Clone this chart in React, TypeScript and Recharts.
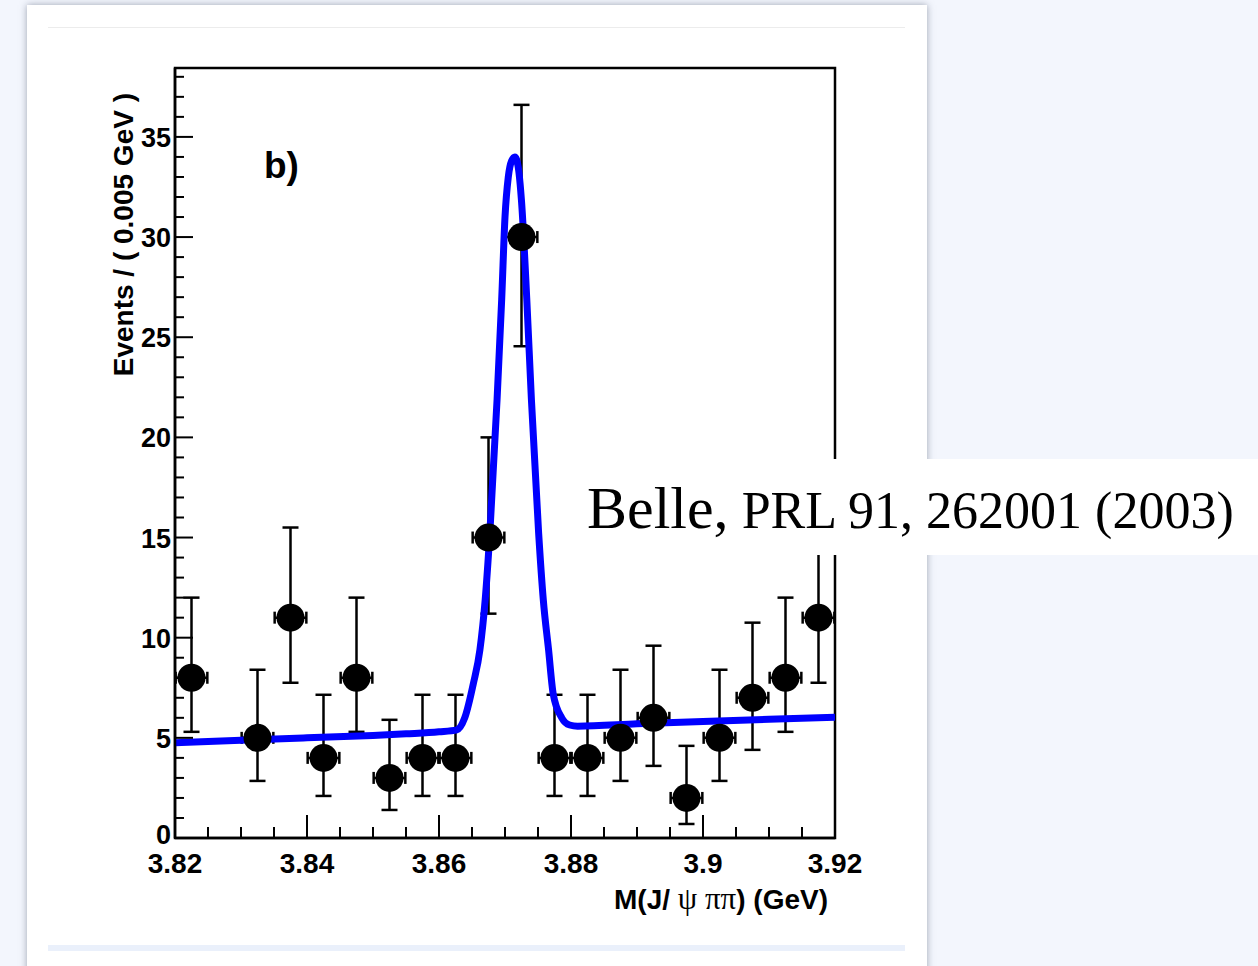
import React from 'react';
import { ComposedChart, XAxis, YAxis, Scatter, Line, ErrorBar, ReferenceArea } from 'recharts';

// ---- data ----
const massBins = [3.8225, 3.8325, 3.8375, 3.8425, 3.8475, 3.8525, 3.8575, 3.8625, 3.8675, 3.8725, 3.8775, 3.8825, 3.8875, 3.8925, 3.8975, 3.9025, 3.9075, 3.9125, 3.9175];
const eventCounts = [8, 5, 11, 4, 8, 3, 4, 4, 15, 30, 4, 4, 5, 6, 2, 5, 7, 8, 11];
const errLower = [2.7, 2.15, 3.25, 1.9, 2.7, 1.6, 1.9, 1.9, 3.8, 5.45, 1.9, 1.9, 2.15, 2.4, 1.3, 2.15, 2.6, 2.7, 3.25];
const errUpper = [4.0, 3.4, 4.5, 3.15, 4.0, 2.9, 3.15, 3.15, 5.0, 6.6, 3.15, 3.15, 3.4, 3.6, 2.6, 3.4, 3.75, 4.0, 4.5];
const binHalfWidth = 0.0024;

const fitMass = [3.82, 3.83, 3.84, 3.85, 3.855, 3.86, 3.8627, 3.8639, 3.8652, 3.8662, 3.867, 3.8677, 3.8688, 3.8695, 3.87, 3.8705, 3.871, 3.8715, 3.872, 3.8725, 3.8733, 3.874, 3.8751, 3.8758, 3.8766, 3.8773, 3.8786, 3.8798, 3.881, 3.89, 3.9, 3.91, 3.92];
const fitEvents = [4.76, 4.88, 5.0, 5.12, 5.2, 5.3, 5.4, 6.0, 7.7, 9.4, 11.9, 15.2, 21.9, 26.9, 31.0, 33.0, 33.8, 34.0, 33.5, 31.8, 26.9, 21.9, 15.2, 11.9, 9.4, 7.2, 6.0, 5.64, 5.58, 5.7, 5.82, 5.93, 6.03];

const xTicks = [3.82, 3.825, 3.83, 3.835, 3.84, 3.845, 3.85, 3.855, 3.86, 3.865, 3.87, 3.875, 3.88, 3.885, 3.89, 3.895, 3.9, 3.905, 3.91, 3.915, 3.92];
const xMajorTicks = [3.82, 3.84, 3.86, 3.88, 3.9, 3.92];
const xMajorLabels = ['3.82', '3.84', '3.86', '3.88', '3.9', '3.92'];
const yTicks = [0, 1, 2, 3, 4, 5, 6, 7, 8, 9, 10, 11, 12, 13, 14, 15, 16, 17, 18, 19, 20, 21, 22, 23, 24, 25, 26, 27, 28, 29, 30, 31, 32, 33, 34, 35, 36, 37, 38];
const yMajorTicks = [0, 5, 10, 15, 20, 25, 30, 35];
const yMax = 38.44;

const pointData = massBins.map((x, i) => ({ x, y: eventCounts[i], ey: [errLower[i], errUpper[i]], ex: binHalfWidth }));
const fitData = fitMass.map((x, i) => ({ x, fit: fitEvents[i] }));

const SANS = '"Liberation Sans", Arial, Helvetica, sans-serif';
const SERIF = '"Liberation Serif", "Times New Roman", serif';

const XTick = (props: any) => {
  const { x, y, payload } = props;
  const v = payload.value;
  const idx = xMajorTicks.findIndex((m) => Math.abs(m - v) < 1e-7);
  const major = idx >= 0;
  return (
    <g>
      <line x1={x} x2={x} y1={y} y2={y - (major ? 23 : 11)} stroke="#000" strokeWidth={2} />
      {major && (
        <text x={x} y={y + 35} textAnchor="middle" fontFamily={SANS} fontWeight="bold" fontSize={28} fill="#000">
          {xMajorLabels[idx]}
        </text>
      )}
    </g>
  );
};

const YTick = (props: any) => {
  const { x, y, payload } = props;
  const v = payload.value;
  const major = yMajorTicks.includes(v);
  const lift = v === 0 ? 4 : 0;
  return (
    <g>
      <line x1={x} x2={x + (major ? 18 : 9)} y1={y} y2={y} stroke="#000" strokeWidth={2} />
      {major && (
        <text x={x - 4} y={y + 10 - lift} textAnchor="end" fontFamily={SANS} fontWeight="bold" fontSize={27} fill="#000">
          {String(v)}
        </text>
      )}
    </g>
  );
};

const YTitle = (props: any) => {
  const vb = props.viewBox || { x: 174, y: 68, width: 1 };
  const ax = vb.x + (vb.width || 0);
  return (
    <text
      transform={`translate(${ax - 42}, ${vb.y + 25}) rotate(-90)`}
      textAnchor="end"
      fontFamily={SANS}
      fontWeight="bold"
      fontSize={28}
      fill="#000"
    >
      Events / ( 0.005 GeV )
    </text>
  );
};

const XTitle = (props: any) => {
  const vb = props.viewBox || { x: 175, y: 838, width: 660 };
  return (
    <text x={vb.x + vb.width - 7} y={vb.y + 71} textAnchor="end" fontFamily={SANS} fontWeight="bold" fontSize={28} fill="#000">
      M(J/
      <tspan fontFamily={SERIF} fontWeight="normal" fontSize={31}> ψ ππ</tspan>
      ) (GeV)
    </text>
  );
};

const PanelLabel = (props: any) => {
  const vb = props.viewBox || { x: 175, y: 68 };
  return (
    <text x={vb.x + 89} y={vb.y + 110} fontFamily={SANS} fontWeight="bold" fontSize={37} fill="#000">
      b)
    </text>
  );
};

const Dot = (props: any) => <circle cx={props.cx} cy={props.cy} r={14} fill="#000" />;

export default function App() {
  return (
    <div style={{ position: 'absolute', left: 0, top: 0, width: 1258, height: 966, overflow: 'hidden', background: '#f3f6fd' }}>
      <div style={{ position: 'absolute', left: 27, top: 5, width: 900, height: 980, background: '#fff', boxShadow: '0 0 7px rgba(110,120,140,0.65)' }} />
      <div style={{ position: 'absolute', left: 48, top: 27, width: 857, height: 1, background: '#ececec' }} />
      <div style={{ position: 'absolute', left: 48, top: 945, width: 857, height: 6, background: '#eaf0fb' }} />
      <div style={{ position: 'absolute', left: 0, top: 0 }}>
        <ComposedChart width={930} height={966} margin={{ top: 68, right: 95, bottom: 127, left: 174 }}>
          <XAxis
            dataKey="x"
            type="number"
            domain={[3.82, 3.92]}
            ticks={xTicks}
            interval={0}
            allowDataOverflow
            height={1}
            tickSize={0}
            tickMargin={0}
            tickLine={false}
            axisLine={{ stroke: '#000', strokeWidth: 2.5 }}
            tick={<XTick />}
            label={<XTitle />}
          />
          <YAxis
            type="number"
            domain={[0, yMax]}
            ticks={yTicks}
            interval={0}
            allowDataOverflow
            width={1}
            tickSize={0}
            tickMargin={0}
            tickLine={false}
            axisLine={{ stroke: '#000', strokeWidth: 2.5 }}
            tick={<YTick />}
            label={<YTitle />}
          />
          <ReferenceArea
            x1={3.82}
            x2={3.92}
            y1={0}
            y2={yMax}
            fill="none"
            fillOpacity={0}
            stroke="#000"
            strokeWidth={2.5}
            strokeOpacity={1}
            label={<PanelLabel />}
          />
          <Scatter data={pointData} dataKey="y" shape={<Dot />} isAnimationActive={false}>
            <ErrorBar dataKey="ey" direction="y" width={8} stroke="#000" strokeWidth={2.5} style={{ strokeWidth: 2.5 }} isAnimationActive={false} />
            <ErrorBar dataKey="ex" direction="x" width={6} stroke="#000" strokeWidth={2.5} style={{ strokeWidth: 2.5 }} isAnimationActive={false} />
          </Scatter>
          <Line
            data={fitData}
            dataKey="fit"
            type="monotone"
            stroke="#0000ff"
            strokeWidth={7}
            dot={false}
            activeDot={false}
            isAnimationActive={false}
          />
        </ComposedChart>
      </div>
      <svg style={{ position: 'absolute', left: 578, top: 459 }} width={680} height={96}>
        <rect x={0} y={0} width={680} height={96} fill="#fff" />
        <text x={9} y={69} fontFamily={SERIF} fill="#000">
          <tspan fontSize={60}>Belle,</tspan>
          <tspan fontSize={52}> PRL 91, 262001 (2003)</tspan>
        </text>
      </svg>
    </div>
  );
}
